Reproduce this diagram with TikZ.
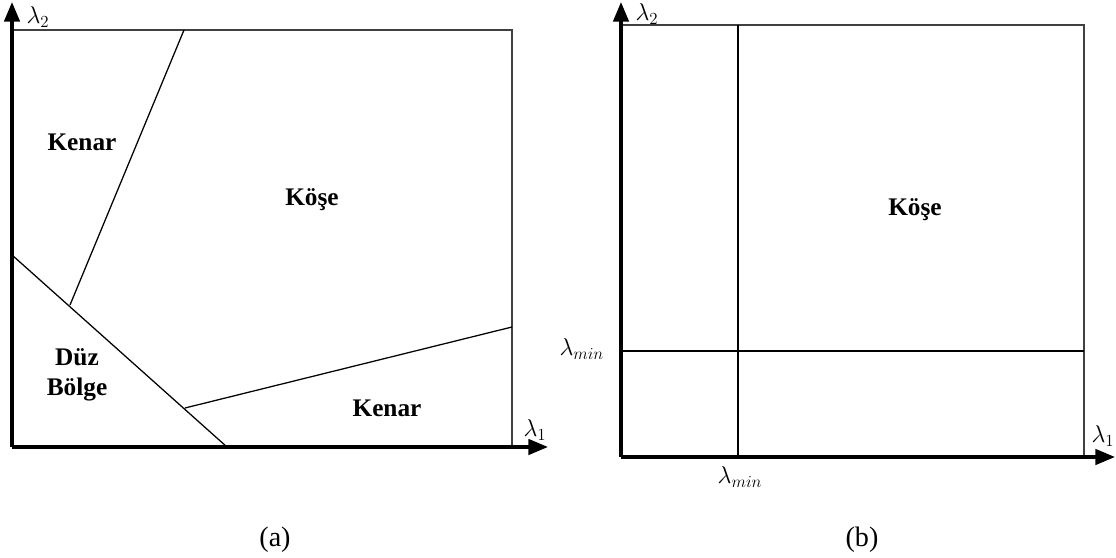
\documentclass[tikz,border=0pt]{standalone}
\usepackage{amsmath}
\usepackage{fontspec}
\setmainfont{Liberation Serif}
\usetikzlibrary{arrows.meta}

\tikzset{
	axis/.style={line width=2.3pt, -{Triangle[length=14pt,width=11pt]}},
	frame/.style={line width=0.8pt, black!75},
	border/.style={line width=0.9pt},
	region/.style={font=\fontsize{18}{21}\selectfont\bfseries, align=center},
	lam/.style={font=\fontsize{18}{20}\selectfont},
	caption/.style={font=\fontsize{20}{23}\selectfont}
}

\begin{document}
\begin{tikzpicture}[x=0.025cm,y=0.025cm]
	\useasboundingbox (0,0) rectangle (1116,558);
	%\draw[help lines] (0,0) grid[step=50] (1116,558);

	% --- (a) ---
	\coordinate (oa) at (12,111);
	\coordinate (ya) at (12,556);
	\coordinate (xa) at (548,111);
	\coordinate (tla) at (12,528);
	\coordinate (tra) at (512,528);
	\coordinate (bra) at (512,111);
	\coordinate (l1a) at (184,528);
	\coordinate (l1b) at (70,253);
	\coordinate (l2a) at (12,303);
	\coordinate (l2b) at (227,111);
	\coordinate (l3a) at (185,150);
	\coordinate (l3b) at (512,231);
	\draw[frame] (tla) -- (tra) -- (bra);
	\draw[border] (l1a) -- (l1b);
	\draw[border] (l2a) -- (l2b);
	\draw[border] (l3a) -- (l3b);
	\draw[axis] (oa) -- (ya);
	\draw[axis] (oa) -- (xa);
	\node[lam] (a2) at (38,541) {$\lambda_2$};
	\node[lam] (a1) at (535,128) {$\lambda_1$};
	\node[region] (kenar1) at (82,416) {Kenar};
	\node[region] (kose1) at (312,358) {Köşe};
	\node[region] (duz) at (77,183) {Düz\\Bölge};
	\node[region] (kenar2) at (387,150) {Kenar};
	\node[caption] (capa) at (275,18) {(a)};

	% --- (b) ---
	\coordinate (ob) at (621,101);
	\coordinate (yb) at (621,556);
	\coordinate (xb) at (1115,101);
	\coordinate (tlb) at (621,533);
	\coordinate (trb) at (1084,533);
	\coordinate (brb) at (1084,101);
	\coordinate (vt) at (738,533);
	\coordinate (vb) at (738,101);
	\coordinate (hl) at (621,207);
	\coordinate (hr) at (1084,207);
	\draw[frame] (tlb) -- (trb) -- (brb);
	\draw[border] (vt) -- (vb);
	\draw[border] (hl) -- (hr);
	\draw[axis] (ob) -- (yb);
	\draw[axis] (ob) -- (xb);
	\node[lam] (b2) at (647,544) {$\lambda_2$};
	\node[lam] (b1) at (1103,122) {$\lambda_1$};
	\node[lam, anchor=east] (minl) at (609,209) {$\lambda_{min}$};
	\node[lam] (minb) at (740,81) {$\lambda_{min}$};
	\node[region] (kose2) at (915,348) {Köşe};
	\node[caption] (capb) at (862,18) {(b)};
\end{tikzpicture}
\end{document}
